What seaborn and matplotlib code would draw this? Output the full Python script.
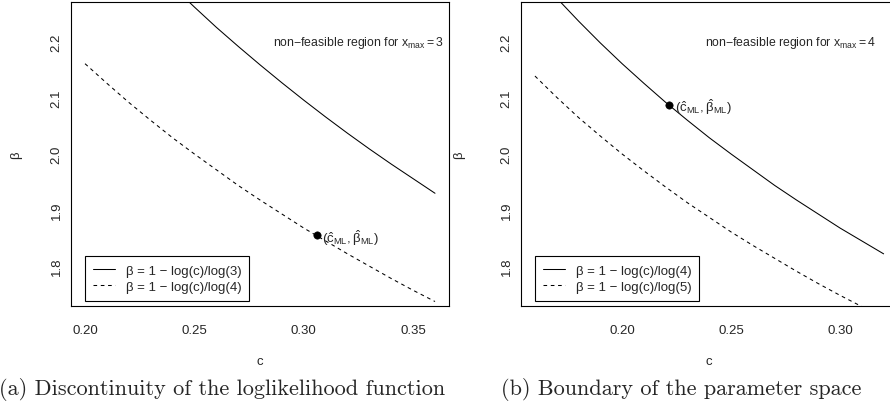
import matplotlib
matplotlib.use("Agg")
import matplotlib.pyplot as plt
from matplotlib.ticker import FormatStrFormatter
import seaborn as sns
import pandas as pd

# valores
c_a = [0.20, 0.21, 0.22, 0.23, 0.24, 0.25, 0.26, 0.27, 0.28,
       0.29, 0.30, 0.31, 0.32, 0.33, 0.34, 0.35, 0.36]
beta_a_log3 = [2.465, 2.421, 2.378, 2.338, 2.299, 2.262, 2.226, 2.192, 2.159,
               2.127, 2.096, 2.066, 2.037, 2.009, 1.982, 1.956, 1.930]
beta_a_log4 = [2.161, 2.126, 2.092, 2.060, 2.029, 2.000, 1.972, 1.944, 1.918,
               1.893, 1.868, 1.845, 1.822, 1.800, 1.778, 1.757, 1.737]

c_b = [0.16, 0.17, 0.18, 0.19, 0.20, 0.21, 0.22, 0.23, 0.24,
       0.25, 0.26, 0.27, 0.28, 0.29, 0.30, 0.31, 0.32]
beta_b_log4 = [2.322, 2.278, 2.237, 2.198, 2.161, 2.126, 2.092, 2.060, 2.029,
               2.000, 1.972, 1.944, 1.918, 1.893, 1.868, 1.845, 1.822]
beta_b_log5 = [2.139, 2.101, 2.065, 2.032, 2.000, 1.970, 1.941, 1.913, 1.887,
               1.861, 1.837, 1.814, 1.791, 1.769, 1.748, 1.728, 1.708]

c_ml = [0.306, 0.2216]
beta_ml = [1.855, 2.087]

labels_a = ["β = 1 − log(c)/log(3)", "β = 1 − log(c)/log(4)"]
labels_b = ["β = 1 − log(c)/log(4)", "β = 1 − log(c)/log(5)"]
region_txt = [r"non$-$feasible region for $x_{\mathrm{max}} = 3$",
              r"non$-$feasible region for $x_{\mathrm{max}} = 4$"]
captions = ["(a) Discontinuity of the loglikelihood function",
            "(b) Boundary of the parameter space"]

sns.set_theme(style="white")
plt.rcParams['font.family'] = ['Liberation Sans', 'DejaVu Sans']
plt.rcParams['mathtext.fontset'] = 'custom'
plt.rcParams['mathtext.rm'] = 'Liberation Sans'
plt.rcParams['mathtext.it'] = 'Liberation Sans'
plt.rcParams['mathtext.bf'] = 'Liberation Sans:bold'

fig = plt.figure(figsize=(8.9, 4.1), dpi=100)
ax1 = fig.add_axes([0.0798, 0.2512, 0.4247, 0.7415])
ax2 = fig.add_axes([0.5854, 0.2512, 0.4231, 0.7415])

paneles = [
    (ax1, c_a, beta_a_log3, beta_a_log4, labels_a, (0.1936, 0.3664), [0.20, 0.25, 0.30, 0.35], 0.325, -0.13),
    (ax2, c_b, beta_b_log4, beta_b_log5, labels_b, (0.1536, 0.3264), [0.20, 0.25, 0.30], 0.277, -0.148),
]

for i, (ax, c, b_sol, b_das, labs, xlim, xt, xtxt, ylab_x) in enumerate(paneles):
    df = pd.DataFrame({"c": c, "solida": b_sol, "discontinua": b_das})
    sns.lineplot(data=df, x="c", y="solida", ax=ax, color="black", lw=0.75, label=labs[0])
    sns.lineplot(data=df, x="c", y="discontinua", ax=ax, color="black", lw=0.75,
                 linestyle=(0, (3.5, 3.5)), label=labs[1])
    sns.scatterplot(x=[c_ml[i]], y=[beta_ml[i]], ax=ax, color="black", s=28,
                    edgecolor="black", zorder=5)
    ax.annotate(r"$(\hat{c}_{\mathrm{ML}},\hat{\beta}_{\mathrm{ML}})$", (c_ml[i], beta_ml[i]),
                xytext=(4, -1), textcoords="offset points", va="center", ha="left",
                fontsize=9.5)
    ax.text(xtxt, 2.2, region_txt[i], ha="center", va="center", fontsize=8.8)

    ax.set_xlim(*xlim)
    ax.set_ylim(1.729, 2.271)
    ax.set_xticks(xt)
    ax.set_yticks([1.8, 1.9, 2.0, 2.1, 2.2])
    ax.xaxis.set_major_formatter(FormatStrFormatter("%.2f"))
    ax.yaxis.set_major_formatter(FormatStrFormatter("%.1f"))
    ax.tick_params(axis="x", length=7, width=0.8, pad=6, labelsize=9.5, color="#444444")
    ax.tick_params(axis="y", length=4.5, width=0.8, pad=1.5, labelsize=9.5, color="#444444")
    plt.setp(ax.get_yticklabels(), rotation=90, va="center", ha="right")
    for sp in ax.spines.values():
        sp.set_color("black")
        sp.set_linewidth(0.8)

    ax.set_xlabel("c", fontsize=9.5)
    ax.set_ylabel("β", fontsize=9.5)
    ax.xaxis.set_label_coords(0.5, -0.16)
    ax.yaxis.set_label_coords(ylab_x, 0.5)

    leg = ax.legend(loc="lower left", bbox_to_anchor=(c[0], 1.7385),
                    bbox_transform=ax.transData, fontsize=9.5, frameon=True,
                    fancybox=False, edgecolor="black", framealpha=1,
                    handlelength=1.7, handletextpad=0.8, borderpad=0.6,
                    labelspacing=0.3, borderaxespad=0)
    leg.get_frame().set_linewidth(0.8)

fig.text(0.249, 0.05, captions[0], ha="center", va="center", fontsize=16, family="cmr10")
fig.text(0.765, 0.05, captions[1], ha="center", va="center", fontsize=16, family="cmr10")

fig.savefig("out.png", dpi=100)
